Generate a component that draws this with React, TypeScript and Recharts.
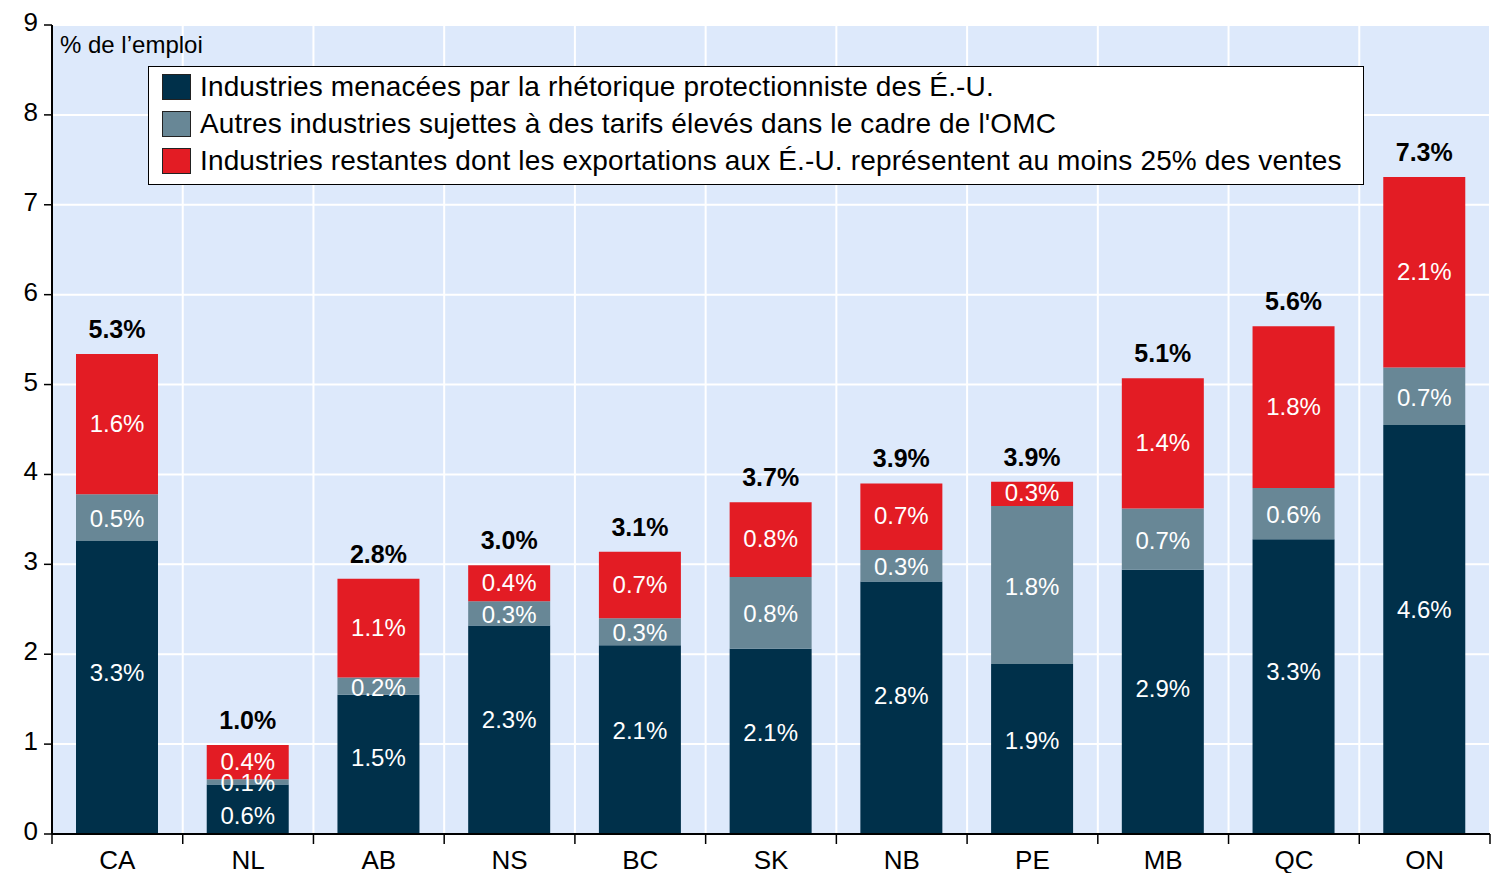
import React from 'react';
import { BarChart, Bar, XAxis, YAxis, CartesianGrid, LabelList, Legend, Customized } from 'recharts';

const categories = ['CA', 'NL', 'AB', 'NS', 'BC', 'SK', 'NB', 'PE', 'MB', 'QC', 'ON'];
const threatened = [3.26, 0.55, 1.55, 2.32, 2.10, 2.06, 2.81, 1.89, 2.94, 3.28, 4.55];
const otherWto = [0.52, 0.06, 0.19, 0.27, 0.30, 0.80, 0.35, 1.76, 0.68, 0.57, 0.64];
const exportDep = [1.56, 0.38, 1.10, 0.40, 0.74, 0.83, 0.74, 0.27, 1.45, 1.80, 2.12];

const threatenedLabels = ['3.3%', '0.6%', '1.5%', '2.3%', '2.1%', '2.1%', '2.8%', '1.9%', '2.9%', '3.3%', '4.6%'];
const otherLabels = ['0.5%', '0.1%', '0.2%', '0.3%', '0.3%', '0.8%', '0.3%', '1.8%', '0.7%', '0.6%', '0.7%'];
const exportLabels = ['1.6%', '0.4%', '1.1%', '0.4%', '0.7%', '0.8%', '0.7%', '0.3%', '1.4%', '1.8%', '2.1%'];
const totalLabels = ['5.3%', '1.0%', '2.8%', '3.0%', '3.1%', '3.7%', '3.9%', '3.9%', '5.1%', '5.6%', '7.3%'];

const yTicks = [0, 1, 2, 3, 4, 5, 6, 7, 8, 9];

const seriesNames = [
  'Industries menacées par la rhétorique protectionniste des É.-U.',
  "Autres industries sujettes à des tarifs élevés dans le cadre de l'OMC",
  'Industries restantes dont les exportations aux É.-U. représentent au moins 25% des ventes',
];

const COLORS = ['#00304a', '#688796', '#e31c24'];
const FONT = "'Liberation Sans', Arial, sans-serif";

const data = categories.map((c, i) => ({
  cat: c,
  threatened: threatened[i],
  other: otherWto[i],
  exp: exportDep[i],
}));

const InnerText = ({ x, y, children }: any) => (
  <text
    x={x}
    y={y}
    fill="#ffffff"
    fontSize={24}
    fontFamily={FONT}
    textAnchor="middle"
    dominantBaseline="central"
  >
    {children}
  </text>
);

const DarkLabel = (props: any) => {
  const { x, y, width, height, index } = props;
  const h = Number(height);
  return (
    <InnerText x={Number(x) + Number(width) / 2} y={Number(y) + Math.max(h * 0.45, 31)}>
      {threatenedLabels[index]}
    </InnerText>
  );
};

const makeCenter = (labels: string[], dy: number) => (props: any) => {
  const { x, y, width, height, index } = props;
  return (
    <InnerText x={Number(x) + Number(width) / 2} y={Number(y) + Number(height) / 2 + dy}>
      {labels[index]}
    </InnerText>
  );
};

const TotalLabel = (props: any) => {
  const { x, y, width, index } = props;
  return (
    <text
      x={Number(x) + Number(width) / 2}
      y={Number(y) - 25}
      fill="#000000"
      fontSize={25}
      fontWeight="bold"
      fontFamily={FONT}
      textAnchor="middle"
      dominantBaseline="central"
    >
      {totalLabels[index]}
    </text>
  );
};

const CategoryTick = (props: any) => {
  const { x, y, payload, width, visibleTicksCount, index } = props;
  const band = Number(width) / Number(visibleTicksCount || categories.length);
  const left = Number(x) - band / 2;
  const right = Number(x) + band / 2;
  const axisY = Number(y);
  return (
    <g>
      <line x1={left} x2={left} y1={axisY} y2={axisY + 10} stroke="#000" strokeWidth={1.5} />
      {index === categories.length - 1 && (
        <line x1={right} x2={right} y1={axisY} y2={axisY + 10} stroke="#000" strokeWidth={1.5} />
      )}
      <text
        x={Number(x)}
        y={axisY + 26}
        fill="#000"
        fontSize={26}
        fontFamily={FONT}
        textAnchor="middle"
        dominantBaseline="central"
      >
        {payload.value}
      </text>
    </g>
  );
};

const YTick = (props: any) => {
  const { x, y, payload } = props;
  return (
    <text
      x={Number(x)}
      y={Number(y) - 3}
      fill="#000"
      fontSize={26}
      fontFamily={FONT}
      textAnchor="end"
      dominantBaseline="central"
    >
      {payload.value}
    </text>
  );
};

const LegendBox = () => (
  <div
    style={{
      width: 1216,
      height: 119,
      boxSizing: 'border-box',
      border: '1.5px solid #000',
      background: '#ffffff',
      paddingTop: 1,
      paddingLeft: 13,
      fontFamily: FONT,
      fontSize: 28,
      color: '#000',
    }}
  >
    {seriesNames.map((n, i) => (
      <div key={n} style={{ display: 'flex', alignItems: 'center', height: 37 }}>
        <div
          style={{
            width: 29,
            height: 26,
            boxSizing: 'border-box',
            background: COLORS[i],
            border: '1px solid #222',
            marginRight: 9,
            flexShrink: 0,
          }}
        />
        <span style={{ whiteSpace: 'nowrap', lineHeight: '37px', letterSpacing: '0.15px' }}>{n}</span>
      </div>
    ))}
  </div>
);

const UnitLabel = () => (
  <text x={60} y={44} fontSize={24} fontFamily={FONT} fill="#000" dominantBaseline="central">
    % de l’emploi
  </text>
);

export default function App() {
  return (
    <div style={{ position: 'absolute', left: 0, top: 0, width: 1499, height: 873, background: '#fff' }}>
      <BarChart
        width={1499}
        height={873}
        data={data}
        margin={{ top: 25, right: 9, left: 0, bottom: 0 }}
        barSize={82}
      >
        <CartesianGrid
          fill="#dde9fb"
          stroke="#ffffff"
          strokeWidth={2}
          vertical={true}
          horizontal={true}
          verticalCoordinatesGenerator={({ offset }: any) =>
            categories.map((_, i) => offset.left + ((i + 1) * offset.width) / categories.length)
          }
        />
        <XAxis
          dataKey="cat"
          tickLine={false}
          axisLine={{ stroke: '#000', strokeWidth: 2 }}
          tick={<CategoryTick />}
          tickSize={0}
          tickMargin={0}
          height={39}
          interval={0}
        />
        <YAxis
          domain={[0, 9]}
          ticks={yTicks}
          width={52}
          tickSize={8}
          tickMargin={6}
          axisLine={{ stroke: '#000', strokeWidth: 2 }}
          tickLine={{ stroke: '#000', strokeWidth: 1.5 }}
          tick={<YTick />}
          allowDataOverflow
        />
        <Legend
          layout="horizontal"
          verticalAlign="middle"
          align="center"
          content={() => <LegendBox />}
          wrapperStyle={{ position: 'absolute', left: 148, top: 66, width: 1216, height: 119 }}
        />
        <Bar dataKey="threatened" stackId="s" fill={COLORS[0]} name={seriesNames[0]} isAnimationActive={false}>
          <LabelList dataKey="threatened" content={DarkLabel} />
        </Bar>
        <Bar dataKey="other" stackId="s" fill={COLORS[1]} name={seriesNames[1]} isAnimationActive={false}>
          <LabelList dataKey="other" content={makeCenter(otherLabels, 1)} />
        </Bar>
        <Bar dataKey="exp" stackId="s" fill={COLORS[2]} name={seriesNames[2]} isAnimationActive={false}>
          <LabelList dataKey="exp" content={makeCenter(exportLabels, -1)} />
          <LabelList dataKey="exp" content={TotalLabel} />
        </Bar>
        <Customized component={UnitLabel} />
      </BarChart>
    </div>
  );
}
